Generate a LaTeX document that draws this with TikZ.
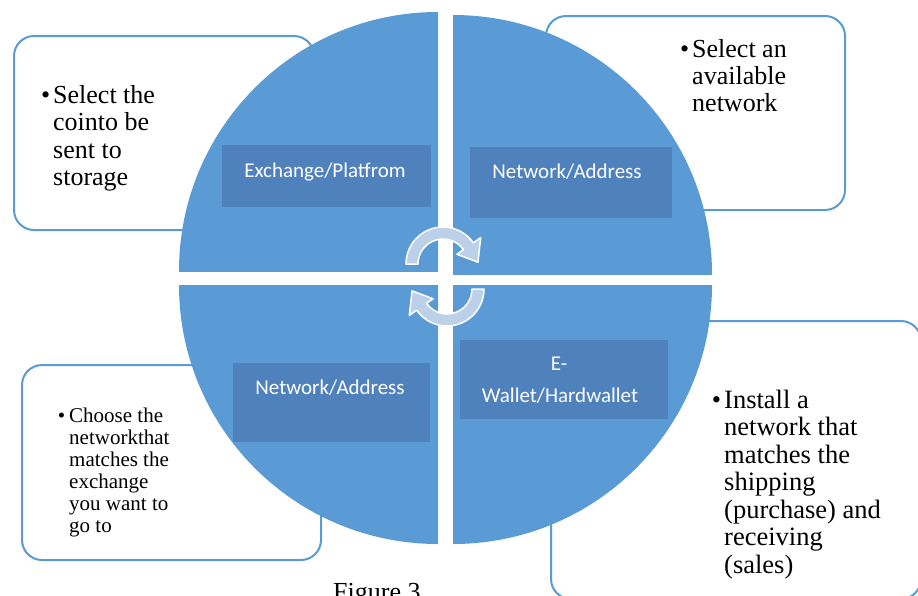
\documentclass[tikz,border=0pt]{standalone}
\usepackage{fontspec}
\setmainfont{Liberation Serif}
\newfontfamily\carlito{Carlito}
\usetikzlibrary{calc}
\definecolor{qblue}{HTML}{5B9BD5}
\definecolor{rblue}{HTML}{4F81BD}
\definecolor{aback}{HTML}{BDD0EA}
\newcommand{\mybul}[1]{\leavevmode\llap{\textbullet\hspace{#1}}}
\begin{document}
\begin{tikzpicture}[x=1pt,y=-1pt,
  infobox/.style={draw=qblue, line width=2pt, fill=white, rounded corners=20pt, inner sep=0pt, anchor=north west},
  quad/.style={fill=qblue},
  labelrect/.style={fill=rblue, inner sep=0pt, anchor=north west},
  lbl/.style={text=white, font=\carlito\fontsize{21pt}{25pt}\selectfont, inner sep=0pt, anchor=base},
  bigtxt/.style={inner sep=0pt, anchor=base west},
  cyc/.style={fill=aback, draw=white, line width=1.5pt, line join=round}]
\useasboundingbox (0,0) rectangle (918,595);
\clip (0,0) rectangle (918,595);

% information boxes (behind the circle)
\node (b1) [infobox, minimum width=300pt, minimum height=194pt] at (13,35) {};
\node (b2) [infobox, minimum width=299pt, minimum height=194pt] at (545,15) {};
\node (b3) [infobox, minimum width=299pt, minimum height=195pt] at (21,364) {};
\node (b4) [infobox, minimum width=370pt, minimum height=278pt] at (550,320) {};

% quadrants
\begin{scope}
  \clip (179,0) rectangle (438,271);
  \fill[quad] (438,271) circle[radius=259];
\end{scope}
\begin{scope}
  \clip (453,0) rectangle (718,274);
  \fill[quad] (453,274) circle[radius=259];
\end{scope}
\begin{scope}
  \clip (170,285) rectangle (438,560);
  \fill[quad] (438,285) circle[radius=259];
\end{scope}
\begin{scope}
  \clip (453,285) rectangle (718,560);
  \fill[quad] (453,285) circle[radius=259];
\end{scope}

% label rectangles
\node (r1) [labelrect, minimum width=209pt, minimum height=62pt] at (222,145) {};
\node (r2) [labelrect, minimum width=202pt, minimum height=71pt] at (470,147) {};
\node (r3) [labelrect, minimum width=197pt, minimum height=79pt] at (233,363) {};
\node (r4) [labelrect, minimum width=208pt, minimum height=79pt] at (460,340) {};

\node (t1) [lbl] at (325,177) {Exchange/Platfrom};
\node (t2) [lbl] at (567,178) {Network/Address};
\node (t3) [lbl] at (330,394) {Network/Address};
\node (t4a) [lbl] at (559,370) {E-};
\node (t4b) [lbl] at (560,402) {Wallet/Hardwallet};

% circular arrows
\coordinate (c1) at (443,264);
\coordinate (c2) at (447,289);
\filldraw[cyc] ($(c1)+(180:37)$) arc[start angle=180,end angle=325,radius=37]
  -- ($(c1)+(325:46)$) -- ($(c1)+(357:35)$) -- ($(c1)+(325:17)$)
  -- ($(c1)+(325:25)$) arc[start angle=325,end angle=180,radius=25] -- cycle;
\filldraw[cyc] ($(c2)+(0:37)$) arc[start angle=0,end angle=145,radius=37]
  -- ($(c2)+(145:46)$) -- ($(c2)+(177:35)$) -- ($(c2)+(145:17)$)
  -- ($(c2)+(145:25)$) arc[start angle=145,end angle=0,radius=25] -- cycle;

% box texts
\node (x1) [bigtxt] at (53,103) {\parbox[t]{200pt}{\fontsize{26pt}{27.5pt}\selectfont\raggedright
  \mybul{3pt}Select the\\cointo be\\sent to\\storage}};
\node (x2) [bigtxt] at (692,57) {\parbox[t]{200pt}{\fontsize{26pt}{27pt}\selectfont\raggedright
  \mybul{3pt}Select an\\available\\network}};
\node (x3) [bigtxt] at (69,422) {\parbox[t]{200pt}{\fontsize{21pt}{22pt}\selectfont\raggedright
  \mybul{4pt}Choose the\\networkthat\\matches the\\exchange\\you want to\\go to}};
\node (x4) [bigtxt] at (724,408) {\parbox[t]{200pt}{\fontsize{26.5pt}{27.5pt}\selectfont\raggedright
  \mybul{3pt}Install a\\network that\\matches the\\shipping\\(purchase) and\\receiving\\(sales)}};

% caption
\node (cap) [inner sep=0pt, anchor=base west, font=\fontsize{26pt}{30pt}\selectfont] at (333,600) {Figure 3};
\end{tikzpicture}
\end{document}
